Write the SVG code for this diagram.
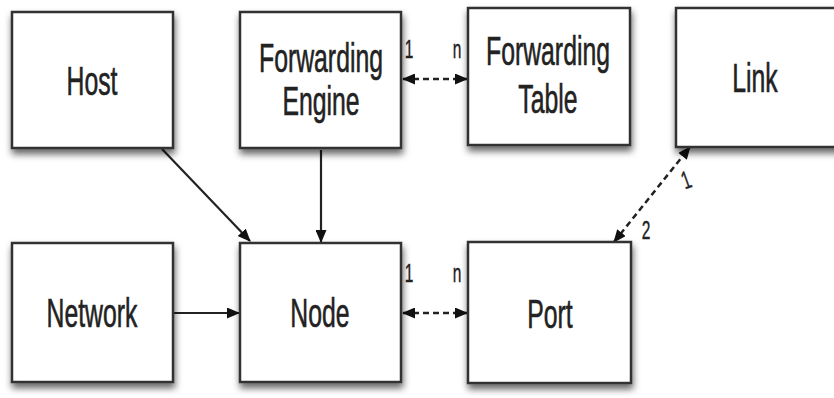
<svg xmlns="http://www.w3.org/2000/svg" width="834" height="398" viewBox="0 0 834 398">
  <defs>
    <filter id="shadow" x="-10%" y="-10%" width="125%" height="130%">
      <feDropShadow dx="1" dy="5" stdDeviation="3.5" flood-color="#000" flood-opacity="0.6"/>
    </filter>
    <marker id="arrow" viewBox="0 0 13 11" refX="12" refY="5.5" markerWidth="13" markerHeight="11" markerUnits="userSpaceOnUse" orient="auto-start-reverse">
      <path d="M0,0 L13,5.5 L0,11 Z" fill="#111"/>
    </marker>
  </defs>
  <style>
    .box { fill: #fff; stroke: #333; stroke-width: 2.5; filter: url(#shadow); }
    .lbl { font-family: "Liberation Sans", Arial, sans-serif; font-size: 40px; fill: #222; stroke: #222; stroke-width: 0.6; text-anchor: middle; }
    .card { font-family: "Liberation Sans", Arial, sans-serif; font-size: 25px; fill: #222; stroke: #222; stroke-width: 0.4; text-anchor: middle; }
    .solid { stroke: #222; stroke-width: 2.2; fill: none; }
    .dash { stroke: #222; stroke-width: 2.5; fill: none; stroke-dasharray: 6 4; }
  </style>

  <g id="connectors">
    <line class="solid" x1="162" y1="149" x2="250" y2="241" marker-end="url(#arrow)"/>
    <line class="solid" x1="321" y1="150" x2="321" y2="242" marker-end="url(#arrow)"/>
    <line class="solid" x1="174" y1="313" x2="239" y2="313" marker-end="url(#arrow)"/>
    <line class="dash" x1="403" y1="79" x2="467" y2="79" marker-start="url(#arrow)" marker-end="url(#arrow)"/>
    <line class="dash" x1="403" y1="313" x2="467" y2="313" marker-start="url(#arrow)" marker-end="url(#arrow)"/>
    <line class="dash" x1="614" y1="242" x2="690" y2="147" marker-start="url(#arrow)" marker-end="url(#arrow)"/>
    <text class="card" transform="matrix(0.62 0 0 1 409 58)">1</text>
    <text class="card" transform="matrix(0.62 0 0 1 457 58)">n</text>
    <text class="card" transform="matrix(0.62 0 0 1 409 282)">1</text>
    <text class="card" transform="matrix(0.62 0 0 1 457 282)">n</text>
    <text class="card" transform="translate(689 188) rotate(-20) scale(0.62 1)">1</text>
    <text class="card" transform="matrix(0.62 0 0 1 646 239)">2</text>
  </g>

  <g id="host">
    <rect class="box" x="12" y="12" width="161" height="136"/>
    <text class="lbl" transform="matrix(0.62 0 0 1 92 95)">Host</text>
  </g>
  <g id="forwarding-engine">
    <rect class="box" x="240" y="12" width="161" height="136"/>
    <text class="lbl" transform="matrix(0.62 0 0 1 321 72)">Forwarding</text>
    <text class="lbl" transform="matrix(0.62 0 0 1 321 115)">Engine</text>
  </g>
  <g id="forwarding-table">
    <rect class="box" x="468" y="8" width="162" height="137"/>
    <text class="lbl" transform="matrix(0.62 0 0 1 548 65)">Forwarding</text>
    <text class="lbl" transform="matrix(0.62 0 0 1 548 113)">Table</text>
  </g>
  <g id="link">
    <rect class="box" x="676" y="8" width="170" height="139"/>
    <text class="lbl" transform="matrix(0.62 0 0 1 755 92)">Link</text>
  </g>
  <g id="network">
    <rect class="box" x="12" y="243" width="161" height="139"/>
    <text class="lbl" transform="matrix(0.62 0 0 1 92 327)">Network</text>
  </g>
  <g id="node">
    <rect class="box" x="240" y="243" width="161" height="139"/>
    <text class="lbl" transform="matrix(0.62 0 0 1 320 327)">Node</text>
  </g>
  <g id="port">
    <rect class="box" x="468" y="242" width="163" height="141"/>
    <text class="lbl" transform="matrix(0.62 0 0 1 550 328)">Port</text>
  </g>
</svg>
